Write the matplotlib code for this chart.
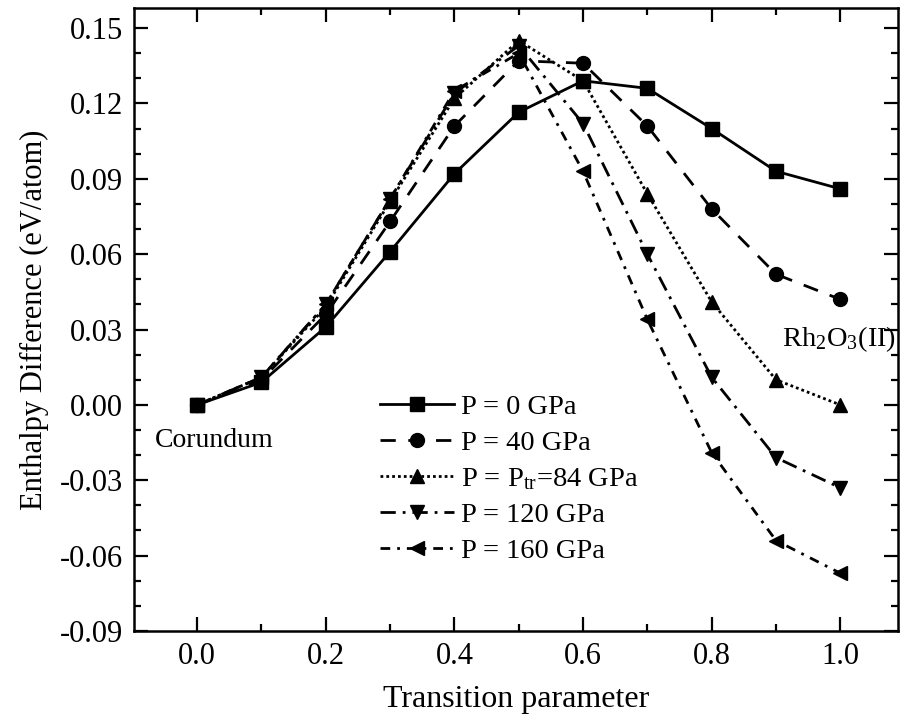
import numpy as np
import matplotlib
matplotlib.use("Agg")
import matplotlib.pyplot as plt
from matplotlib.ticker import MultipleLocator, FormatStrFormatter

plt.rcParams['font.family'] = ['Liberation Serif', 'DejaVu Serif']
plt.rcParams['mathtext.fontset'] = 'custom'
plt.rcParams['mathtext.rm'] = 'Liberation Serif'
plt.rcParams['mathtext.it'] = 'Liberation Serif:italic'

# transition parameter
x = [0.0, 0.1, 0.2, 0.3, 0.4, 0.5, 0.6, 0.7, 0.8, 0.9, 1.0]

# enthalpy difference (eV/atom) for each pressure
p0 = [0.0, 0.009, 0.031, 0.061, 0.092, 0.1165, 0.129, 0.126, 0.110, 0.093, 0.086]
p40 = [0.0, 0.010, 0.036, 0.073, 0.111, 0.137, 0.136, 0.111, 0.078, 0.052, 0.042]
p84 = [0.0, 0.011, 0.039, 0.081, 0.122, 0.145, 0.129, 0.084, 0.041, 0.010, 0.000]
p120 = [0.0, 0.011, 0.040, 0.082, 0.124, 0.143, 0.112, 0.060, 0.011, -0.021, -0.033]
p160 = [0.0, 0.011, 0.040, 0.082, 0.125, 0.140, 0.093, 0.034, -0.019, -0.054, -0.067]

labels = ['P = 0 GPa', 'P = 40 GPa', r'P = P$_{\rm tr}$=84 GPa',
          'P = 120 GPa', 'P = 160 GPa']

fig = plt.figure(figsize=(9, 7.24), dpi=100)
ax = fig.add_axes([0.149, 0.1285, 0.849, 0.8605])

lw = 2.0
ax.plot(x, p0, '-', color='k', marker='s', ms=10, lw=lw, label=labels[0])
ax.plot(x, p40, color='k', ls=(0, (5.5, 4.5)), marker='o', ms=10, lw=lw, label=labels[1])
ax.plot(x, p84, color='k', ls=(0, (1, 1.1)), marker='^', ms=10, lw=lw, label=labels[2])
ax.plot(x, p120, color='k', ls=(0, (5.5, 2.5, 1, 2.5)), marker='v', ms=10, lw=lw, label=labels[3])
ax.plot(x, p160, color='k', ls=(0, (3.5, 2.5, 1, 2.5)), marker='<', ms=10, lw=lw, label=labels[4])

ax.set_xlim(-0.098, 1.09)
ax.set_ylim(-0.09, 0.158)

ax.xaxis.set_major_locator(MultipleLocator(0.2))
ax.xaxis.set_minor_locator(MultipleLocator(0.1))
ax.yaxis.set_major_locator(MultipleLocator(0.03))
ax.yaxis.set_minor_locator(MultipleLocator(0.01))
ax.xaxis.set_major_formatter(FormatStrFormatter('%.1f'))
ax.yaxis.set_major_formatter(FormatStrFormatter('%.2f'))

ax.tick_params(which='both', direction='in', top=True, right=True, labelsize=22, width=1.6)
ax.tick_params(which='major', length=10, pad=8)
ax.tick_params(which='minor', length=5)
for s in ax.spines.values():
    s.set_linewidth(1.8)

ax.set_xlabel('Transition parameter', fontsize=23, labelpad=10)
ax.set_ylabel('Enthalpy Difference (eV/atom)', fontsize=22, labelpad=8)

ax.text(-0.065, -0.014, 'Corundum', fontsize=20, va='center', ha='left')
ax.text(0.91, 0.026, r'Rh$_2$O$_3$(II)', fontsize=20.5, va='center', ha='left')

ax.legend(loc='upper left', bbox_to_anchor=(0.322, 0.381), frameon=False,
          fontsize=20.5, handlelength=2.6, handletextpad=0.25, labelspacing=0.36,
          borderpad=0, borderaxespad=0)

fig.savefig('out.png', dpi=100)
